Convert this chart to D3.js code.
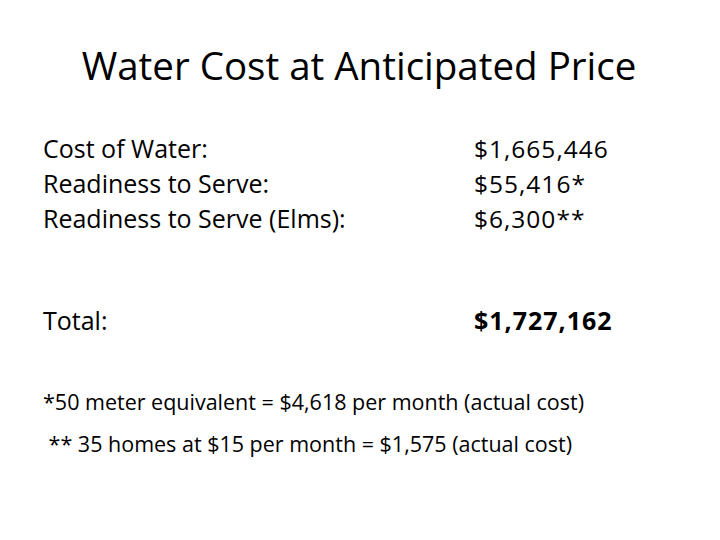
<!DOCTYPE html>
<html><head><meta charset="utf-8">
<script src="https://cdn.jsdelivr.net/npm/d3@7"></script>
<style>body{margin:0;background:#fff;} text{font-family:"Open Sans",Lato,sans-serif;fill:#000;}</style>
</head><body>
<script>
const title = "Water Cost at Anticipated Price";
const itemLabels = ["Cost of Water:", "Readiness to Serve:", "Readiness to Serve (Elms):"];
const itemValues = ["$1,665,446", "$55,416*", "$6,300**"];
const totalLabel = "Total:";
const totalValue = "$1,727,162";
const notes = ["*50 meter equivalent = $4,618 per month (actual cost)", " ** 35 homes at $15 per month = $1,575 (actual cost)"];

const W = 720, H = 540;
const svg = d3.select("body").append("svg").attr("width", W).attr("height", H);

svg.append("text").attr("x", 359).attr("y", 80).attr("text-anchor", "middle")
  .style("font-size", "38.5px").text(title);

const rowY = d3.scaleLinear().domain([0, 1]).range([158, 193]);
const g = svg.append("g");
g.selectAll("text.lab").data(itemLabels).join("text").attr("class", "lab")
  .attr("x", 43).attr("y", (d, i) => rowY(i)).style("font-size", "25px").text(d => d);
g.selectAll("text.val").data(itemValues).join("text").attr("class", "val")
  .attr("x", 474).attr("y", (d, i) => rowY(i)).style("font-size", "24.5px").style("letter-spacing", "1px").text(d => d);

svg.append("text").attr("x", 43).attr("y", 330).style("font-size", "25px").text(totalLabel);
svg.append("text").attr("x", 474).attr("y", 330).style("font-size", "25px").style("font-weight", "bold").style("letter-spacing", "1px").text(totalValue);

const noteY = d3.scaleLinear().domain([0, 1]).range([410, 452]);
svg.selectAll("text.note").data(notes).join("text").attr("class", "note")
  .attr("x", 43).attr("y", (d, i) => noteY(i)).style("font-size", "21.5px")
  .attr("xml:space", "preserve").style("white-space", "pre").text(d => d);
</script>
</body></html>
